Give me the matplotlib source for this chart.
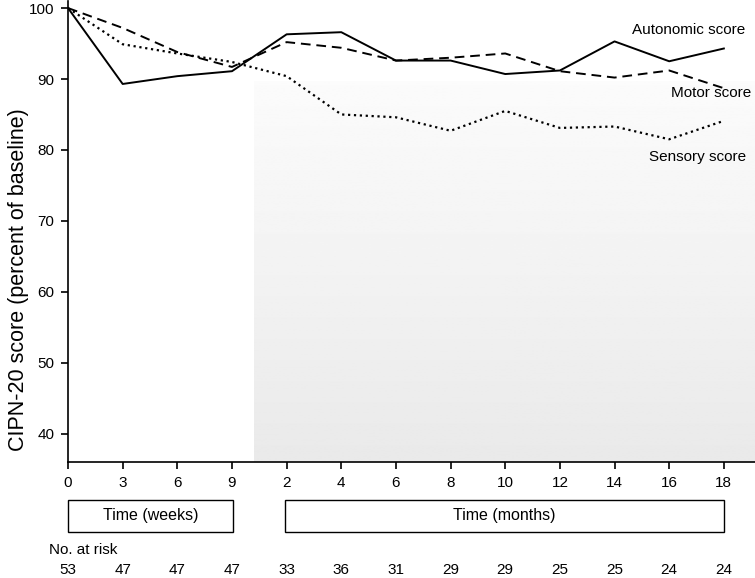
import numpy as np
import matplotlib.pyplot as plt
from matplotlib.patches import Rectangle
from matplotlib.transforms import blended_transform_factory

plt.rcParams['font.family'] = ['Liberation Sans', 'DejaVu Sans']
plt.rcParams['font.size'] = 11

tick_labels = ['0', '3', '6', '9', '2', '4', '6', '8', '10', '12', '14', '16', '18']
autonomic = [100, 89.3, 90.4, 91.1, 96.3, 96.6, 92.6, 92.6, 90.7, 91.2, 95.3, 92.5, 94.3]
motor = [100, 97.2, 93.8, 91.7, 95.2, 94.4, 92.6, 93.0, 93.6, 91.1, 90.2, 91.2, 88.7]
sensory = [100, 94.9, 93.6, 92.4, 90.4, 85.0, 84.6, 82.7, 85.5, 83.1, 83.3, 81.5, 84.1]
at_risk = [53, 47, 47, 47, 33, 36, 31, 29, 29, 25, 25, 24, 24]

x = np.arange(len(tick_labels))

fig = plt.figure(figsize=(7.55, 5.78), dpi=100)
ax = fig.add_axes([0.0901, 0.2007, 0.9099, 0.7976])

# grey gradient behind the monthly part
grad = np.linspace(0.985, 0.915, 256).reshape(-1, 1)
ax.imshow(grad, cmap='gray', vmin=0, vmax=1, aspect='auto',
          extent=[3.4, 12.57, 36, 89.6], origin='upper', zorder=0)

ax.plot(x, autonomic, '-', color='black', lw=1.4)
ax.plot(x, motor, '--', color='black', lw=1.4, dashes=(5, 3))
ax.plot(x, sensory, ':', color='black', lw=1.6)

ax.text(12.4, 96.9, 'Autonomic score', ha='right', va='center', fontsize=11)
ax.text(12.5, 88.0, 'Motor score', ha='right', va='center', fontsize=11)
ax.text(12.4, 79.0, 'Sensory score', ha='right', va='center', fontsize=11)

ax.set_xlim(0, 12.57)
ax.set_ylim(36, 101)
ax.set_xticks(x)
ax.set_xticklabels(tick_labels)
ax.set_yticks([40, 50, 60, 70, 80, 90, 100])
ax.set_ylabel('CIPN-20 score (percent of baseline)', fontsize=15.5)
ax.yaxis.set_label_coords(-0.057, 0.395)
ax.spines['top'].set_visible(False)
ax.spines['right'].set_visible(False)
ax.spines['left'].set_linewidth(1.2)
ax.spines['bottom'].set_linewidth(1.2)
ax.tick_params(direction='out', length=5, width=1.2, labelsize=11, pad=5)

tr = blended_transform_factory(ax.transData, fig.transFigure)
for x0, x1, lab in [(0, 3.02, 'Time (weeks)'), (3.97, 12.0, 'Time (months)')]:
    ax.add_patch(Rectangle((x0, 0.0796), x1 - x0, 0.0554, transform=tr,
                           fill=False, lw=1.0, color='black', clip_on=False))
    ax.text((x0 + x1) / 2, 0.1073, lab, transform=tr, ha='center', va='center', fontsize=11.5)

fig.text(49 / 755, 0.048, 'No. at risk', ha='left', va='center', fontsize=11)
for xi, n in zip(x, at_risk):
    ax.text(xi, 0.014, str(n), transform=tr, ha='center', va='center', fontsize=11)

fig.savefig('out.png', dpi=100)
